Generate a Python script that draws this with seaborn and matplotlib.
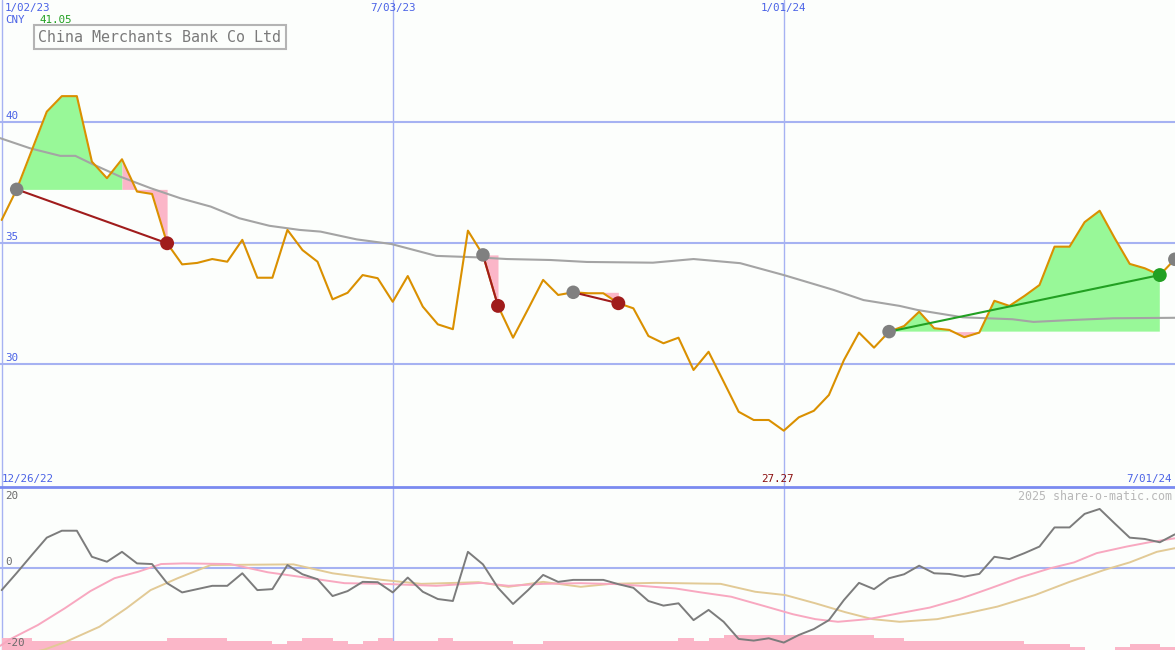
import matplotlib
matplotlib.use("Agg")
import matplotlib.pyplot as plt
import seaborn as sns
import pandas as pd

# weekly closes, week 0 = 2 Jan 2023
price = [35.95, 37.21, 38.81, 40.41, 41.05, 41.05, 38.35, 37.67, 38.45, 37.12,
         37.02, 34.99, 34.12, 34.18, 34.34, 34.23, 35.13, 33.57, 33.57, 35.54,
         34.71, 34.23, 32.68, 32.95, 33.68, 33.55, 32.58, 33.64, 32.38, 31.65,
         31.45, 35.51, 34.51, 32.41, 31.10, 32.28, 33.48, 32.86, 32.97, 32.93,
         32.93, 32.52, 32.31, 31.17, 30.87, 31.10, 29.77, 30.52, 29.29, 28.05,
         27.71, 27.71, 27.27, 27.82, 28.09, 28.74, 30.18, 31.31, 30.69, 31.35,
         31.58, 32.17, 31.49, 31.42, 31.12, 31.31, 32.62, 32.41, 32.82, 33.27,
         34.85, 34.85, 35.86, 36.33, 35.20, 34.14, 33.96, 33.68, 34.33]

# long moving average (grey line)
ma_week = [-0.1, 0.9, 1.9, 3.9, 4.9, 5.9, 7.9, 9.9, 11.9, 13.9, 15.8, 17.8, 19.8,
           21.2, 23.6, 25.9, 28.9, 31.6, 33.6, 36.5, 38.9, 43.3, 46.0, 49.1, 52.0,
           55.3, 57.3, 59.7, 60.9, 63.9, 67.2, 68.6, 71.2, 73.9, 78.0]
ma_value = [39.32, 39.11, 38.90, 38.59, 38.59, 38.29, 37.73, 37.26, 36.84, 36.50,
            36.02, 35.71, 35.54, 35.47, 35.15, 34.96, 34.47, 34.41, 34.34, 34.30,
            34.22, 34.19, 34.34, 34.17, 33.68, 33.07, 32.65, 32.41, 32.24, 31.94,
            31.86, 31.75, 31.83, 31.90, 31.92]

# trades: entry week -> exit week
entry_week = [1, 32, 38, 59]
exit_week = [11, 33, 41, 77]
open_week = 78

# oscillator panel
osc = [-6.7, -1.5, 3.9, 9.2, 11.3, 11.3, 3.4, 1.9, 4.9, 1.4,
       1.2, -4.6, -7.4, -6.4, -5.4, -5.4, -1.6, -6.7, -6.4, 0.9,
       -1.9, -3.4, -8.5, -7.0, -4.2, -4.3, -7.4, -2.9, -7.2, -9.4,
       -10.0, 4.9, 1.1, -6.0, -10.9, -6.7, -2.1, -4.2, -3.6, -3.6,
       -3.6, -4.9, -6.0, -10.0, -11.4, -10.7, -15.8, -12.7, -16.3, -21.5,
       -22.0, -21.3, -22.6, -20.3, -18.5, -15.8, -9.7, -4.5, -6.4, -3.1,
       -1.9, 0.7, -1.6, -1.8, -2.6, -1.8, 3.4, 2.7, 4.5, 6.5,
       12.3, 12.3, 16.4, 17.9, 13.5, 9.2, 8.8, 7.8, 10.2]
sig_week = [-0.1, 0.6, 2.4, 4.2, 5.9, 7.5, 9.1, 10.6, 12.1, 15.2, 17.7, 20.2, 22.8,
            25.3, 28.9, 31.9, 33.7, 36.0, 38.5, 41.0, 44.8, 46.5, 48.5, 50.6, 52.6,
            54.1, 55.6, 57.6, 59.7, 61.7, 63.7, 65.7, 67.7, 69.7, 71.3, 72.8, 74.8,
            76.3, 78.0]
sig_value = [-23.6, -21.5, -17.3, -12.2, -7.0, -3.1, -1.1, 1.2, 1.4, 1.2, -1.3, -2.9,
             -4.6, -4.8, -5.4, -4.5, -5.4, -4.8, -4.6, -4.9, -6.2, -7.4, -8.7, -11.4,
             -14.0, -15.5, -16.3, -15.5, -13.7, -12.0, -9.4, -6.2, -2.9, -0.1, 1.7,
             4.5, 6.5, 7.8, 9.0]
slow_week = [0.0, 2.8, 4.3, 6.5, 8.3, 9.9, 11.7, 13.9, 19.4, 22.0, 25.3, 27.9, 31.7,
             33.7, 36.0, 38.5, 40.5, 43.5, 47.8, 50.1, 52.1, 54.1, 56.1, 57.9, 59.7,
             62.2, 64.2, 66.2, 68.7, 71.0, 73.3, 75.0, 76.8, 78.0]
slow_value = [-27.5, -24.8, -22.3, -17.8, -12.2, -6.7, -3.1, 0.9, 1.1, -1.6, -3.6,
              -4.8, -4.3, -5.7, -4.2, -5.7, -4.8, -4.5, -4.8, -7.2, -8.2, -10.7, -13.4,
              -15.5, -16.3, -15.5, -13.7, -11.7, -8.2, -4.2, -0.6, 1.7, 4.9, 6.0]

# relative weekly volume (bars at the bottom)
volume = [4, 4, 3, 3, 3, 3, 3, 3, 3, 3, 3, 4, 4, 4, 4, 3, 3, 3, 2, 3,
          4, 4, 3, 2, 3, 4, 3, 3, 3, 4, 3, 3, 3, 3, 2, 2, 3, 3, 3, 3,
          3, 3, 3, 3, 3, 4, 3, 4, 5, 5, 5, 5, 5, 5, 5, 5, 5, 5, 4, 4,
          3, 3, 3, 3, 3, 3, 3, 3, 2, 2, 2, 1, 0, 0, 1, 2, 2, 1]

price_grid = [30, 35, 40]
osc_labels = [20, 0, -20]
marked_weeks = [0, 26, 52]
first_date = pd.Timestamp("2023-01-02")
company = "China Merchants Bank Co Ltd"
currency = "CNY"

weeks = list(range(len(price)))


def fmt_date(d):
    return f"{d.month}/{d.day:02d}/{d.year % 100:02d}"


# colours
bg = "#FCFEFC"
grid_c = "#A6B2F2"
sep_c = "#7A8AF0"
blue_txt = "#4A62E6"
price_c = "#DA9000"
up_fill = "#98F898"
down_fill = "#FBB6C8"

sns.set_theme(style="white")
plt.rcParams["font.family"] = ["DejaVu Sans Mono"]

fig = plt.figure(figsize=(11.75, 6.5), dpi=100, facecolor=bg)
top = fig.add_axes([0, 163 / 650, 1, 487 / 650])
bot = fig.add_axes([0, 0, 1, 163 / 650])

for ax in (top, bot):
    ax.set_facecolor(bg)
    ax.set_xlim(-0.11, 78.01)
    for s in ax.spines.values():
        s.set_visible(False)
    ax.set_xticks([])
    ax.set_yticks([])
    for w in marked_weeks:
        ax.axvline(w, color=grid_c, lw=1.0, zorder=0.5)

top.set_ylim(24.95, 45.01)
bot.set_ylim(-24.85, 24.55)

# price panel
for p in price_grid:
    top.axhline(p, color=grid_c, lw=1.5, zorder=0.5)

# green/pink areas between price and the entry level of each trade
for e, x in zip(entry_week, exit_week):
    base = price[e]
    seg = list(range(e, x + 1))
    green = [False] * len(seg)
    pink = [False] * len(seg)
    for i in range(len(seg) - 1):
        if price[seg[i + 1]] >= base:
            green[i] = green[i + 1] = True
        else:
            pink[i] = pink[i + 1] = True
    ys = [price[k] for k in seg]
    top.fill_between(seg, ys, base, where=green, color=up_fill, lw=0, zorder=1)
    top.fill_between(seg, ys, base, where=pink, color=down_fill, lw=0, zorder=1)

sns.lineplot(x=ma_week, y=ma_value, ax=top, color="#A4A4A4", lw=1.5,
             estimator=None, sort=False, zorder=2)
sns.lineplot(x=weeks, y=price, ax=top, color=price_c, lw=1.5,
             estimator=None, sort=False, zorder=3)

for e, x in zip(entry_week, exit_week):
    win = price[x] > price[e]
    c = "#22A022" if win else "#A01C1C"
    sns.lineplot(x=[e, x], y=[price[e], price[x]], ax=top, color=c, lw=1.5,
                 estimator=None, sort=False, zorder=4)
    sns.scatterplot(x=[x], y=[price[x]], ax=top, color=c, s=100,
                    edgecolor="none", zorder=5)

gray_pts = entry_week + [open_week]
sns.scatterplot(x=gray_pts, y=[price[k] for k in gray_pts], ax=top,
                color="#808080", s=95, edgecolor="none", zorder=5)

# price labels
for p in price_grid:
    top.annotate(str(p), xy=(0, p), xycoords=("axes fraction", "data"),
                 xytext=(5, 3), textcoords="offset pixels", va="baseline",
                 ha="left", color=blue_txt, fontsize=7.8)

for w in marked_weeks:
    d = first_date + pd.Timedelta(weeks=w)
    top.annotate(fmt_date(d), xy=(w, 1), xycoords=("data", "axes fraction"),
                 xytext=(3 if w == 0 else 0, -8), textcoords="offset pixels",
                 ha="left" if w == 0 else "center", va="center",
                 color=blue_txt, fontsize=7.8)

top.annotate(fmt_date(first_date - pd.Timedelta(weeks=1)), xy=(0, 0),
             xycoords="axes fraction", xytext=(2, 8), textcoords="offset pixels",
             ha="left", va="center", color=blue_txt, fontsize=7.8)
top.annotate(fmt_date(first_date + pd.Timedelta(weeks=len(price) - 1)), xy=(1, 0),
             xycoords="axes fraction", xytext=(-3, 8), textcoords="offset pixels",
             ha="right", va="center", color=blue_txt, fontsize=7.8)

lo = min(weeks, key=lambda k: price[k])
top.annotate(f"{price[lo]:.2f}", xy=(lo, 0), xycoords=("data", "axes fraction"),
             xytext=(-6, 8), textcoords="offset pixels", ha="center", va="center",
             color="#8B1010", fontsize=7.8)

top.annotate(currency, xy=(0, 1), xycoords="axes fraction", xytext=(5, -20),
             textcoords="offset pixels", ha="left", va="center",
             color=blue_txt, fontsize=7.8)
top.annotate(f"{max(price):.2f}", xy=(0, 1), xycoords="axes fraction",
             xytext=(40, -20), textcoords="offset pixels", ha="left",
             va="center", color="#22A022", fontsize=7.8)
top.annotate(company, xy=(0, 1), xycoords="axes fraction", xytext=(38, -37),
             textcoords="offset pixels", ha="left", va="center",
             color="#7A7A7A", fontsize=10.8,
             bbox=dict(boxstyle="square,pad=0.3", fc="none", ec="#B4B4B4", lw=1.5))

# oscillator panel
bot.spines["top"].set_visible(True)
bot.spines["top"].set_color(sep_c)
bot.spines["top"].set_linewidth(2)
bot.axhline(0, color=grid_c, lw=1.5, zorder=0.5)

lo_y = bot.get_ylim()[0]
vol_unit = 3.0 / 3.3
bot.bar(list(range(len(volume))), [v * vol_unit for v in volume], width=1,
        align="edge", bottom=lo_y, color=down_fill, lw=0, zorder=1)

sns.lineplot(x=slow_week, y=slow_value, ax=bot, color="#E2CA96", lw=1.4,
             estimator=None, sort=False, zorder=2)
sns.lineplot(x=sig_week, y=sig_value, ax=bot, color="#F8A8C0", lw=1.4,
             estimator=None, sort=False, zorder=2)
sns.lineplot(x=weeks, y=osc, ax=bot, color="#7C7C7C", lw=1.4,
             estimator=None, sort=False, zorder=3)

for v in osc_labels:
    bot.annotate(str(v), xy=(0, v), xycoords=("axes fraction", "data"),
                 xytext=(5, 3 if v >= 0 else -12), textcoords="offset pixels",
                 va="baseline", ha="left", color="#6A6A6A", fontsize=7.8)

bot.annotate("2025 share-o-matic.com", xy=(1, 1), xycoords="axes fraction",
             xytext=(-3, -9), textcoords="offset pixels", ha="right", va="center",
             color="#B8B8B8", fontsize=8.4)

for ax in (top, bot):
    ax.set_xlabel("")
    ax.set_ylabel("")

fig.savefig("out.png", dpi=100, facecolor=bg)
